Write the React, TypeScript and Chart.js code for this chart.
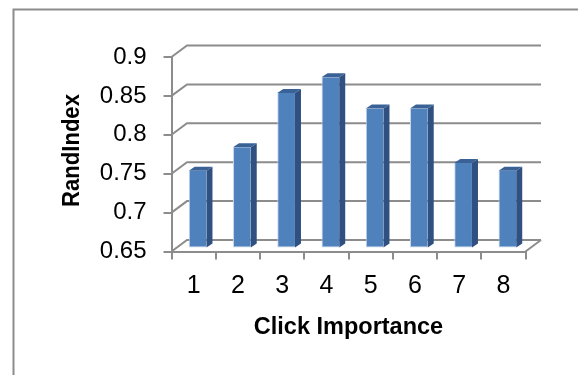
import { useEffect, useRef } from "react";
import { Chart, registerables } from "chart.js";

Chart.register(...registerables);

const categories = ["1", "2", "3", "4", "5", "6", "7", "8"];
const randIndex = [0.75, 0.78, 0.85, 0.87, 0.83, 0.83, 0.76, 0.75];
const yTicks = [0.65, 0.7, 0.75, 0.8, 0.85, 0.9];
const yAxisTitle = "RandIndex";
const xAxisTitle = "Click Importance";

const AXIS_GRAY = "#8c8c8c";
const BAR_FRONT = "#4f81bd";
const BAR_SIDE = "#2f5080";
const BAR_TOP = "#3a6296";
const BAR_EDGE = "#c4d5ea";

// Depth of the box behind the front plane, and of each column inside it.
const WALL_DX = 15.5;
const WALL_DY = -11.5;
const BAR_SHIFT_X = 4;
const BAR_SHIFT_Y = -3;
const BAR_DEPTH_X = 6;
const BAR_DEPTH_Y = -4;

// Paints the card outline and the back wall, floor and their connectors.
const boxPlugin = {
  id: "box3d",
  beforeDraw(chart: any) {
    const { ctx, scales, width, height } = chart;
    const yScale = scales.y;
    const { left, right, bottom } = chart.chartArea;
    ctx.save();
    ctx.strokeStyle = AXIS_GRAY;
    ctx.lineWidth = 2;
    ctx.beginPath();
    ctx.moveTo(13.5, height);
    ctx.lineTo(13.5, 9.5);
    ctx.lineTo(width, 9.5);
    ctx.stroke();
    yScale.ticks.forEach((tick: any) => {
      const y = yScale.getPixelForValue(tick.value);
      ctx.beginPath();
      ctx.moveTo(left, y);
      ctx.lineTo(left + WALL_DX, y + WALL_DY);
      ctx.lineTo(right + WALL_DX, y + WALL_DY);
      ctx.stroke();
    });
    ctx.beginPath();
    ctx.moveTo(right, bottom);
    ctx.lineTo(right + WALL_DX, bottom + WALL_DY);
    ctx.stroke();
    ctx.restore();
  },
};

// Shifts the columns into the box and adds their side and top faces.
const columnPlugin = {
  id: "column3d",
  beforeDatasetsDraw(chart: any) {
    const { ctx } = chart;
    ctx.save();
    ctx.translate(BAR_SHIFT_X, BAR_SHIFT_Y);
    chart.getDatasetMeta(0).data.forEach((bar: any) => {
      const half = bar.width / 2;
      const l = bar.x - half;
      const r = bar.x + half;
      ctx.fillStyle = BAR_SIDE;
      ctx.beginPath();
      ctx.moveTo(r, bar.y);
      ctx.lineTo(r + BAR_DEPTH_X, bar.y + BAR_DEPTH_Y);
      ctx.lineTo(r + BAR_DEPTH_X, bar.base + BAR_DEPTH_Y);
      ctx.lineTo(r, bar.base);
      ctx.closePath();
      ctx.fill();
      ctx.fillStyle = BAR_TOP;
      ctx.beginPath();
      ctx.moveTo(l, bar.y);
      ctx.lineTo(l + BAR_DEPTH_X, bar.y + BAR_DEPTH_Y);
      ctx.lineTo(r + BAR_DEPTH_X, bar.y + BAR_DEPTH_Y);
      ctx.lineTo(r, bar.y);
      ctx.closePath();
      ctx.fill();
    });
  },
  afterDatasetsDraw(chart: any) {
    chart.ctx.restore();
  },
};

// The vertical axis title sits slightly above the middle of the axis and runs tighter than its font.
const yTitlePlugin = {
  id: "yTitle",
  afterDraw(chart: any) {
    const { ctx } = chart;
    ctx.save();
    ctx.translate(72.5, 150.5);
    ctx.rotate(-Math.PI / 2);
    ctx.scale(0.92, 1);
    ctx.font = 'bold 24px "Liberation Sans"';
    ctx.fillStyle = "#000";
    ctx.textAlign = "center";
    ctx.textBaseline = "middle";
    ctx.fillText(yAxisTitle, 0, 0);
    ctx.restore();
  },
};

export default function App() {
  const canvasRef = useRef<HTMLCanvasElement | null>(null);

  useEffect(() => {
    document.body.style.margin = "0";
    const chart = new Chart(canvasRef.current as HTMLCanvasElement, {
      type: "bar",
      data: {
        labels: categories,
        datasets: [
          {
            data: randIndex,
            base: 0.65,
            backgroundColor: BAR_FRONT,
            borderColor: BAR_EDGE,
            borderWidth: { left: 1, bottom: 1, right: 0, top: 0 },
            borderSkipped: false,
            categoryPercentage: 1,
            barPercentage: 0.4,
          },
        ],
      },
      options: {
        animation: false,
        responsive: false,
        layout: { padding: { top: 57, left: 0, right: 52.5, bottom: 0 } },
        plugins: { legend: { display: false }, tooltip: { enabled: false } },
        scales: {
          x: {
            afterFit(axis: any) {
              axis.height = 123.5;
            },
            grid: {
              drawOnChartArea: false,
              color: AXIS_GRAY,
              lineWidth: 2,
              tickLength: 8,
            },
            border: { color: AXIS_GRAY, width: 2 },
            ticks: {
              color: "#000",
              padding: 12,
              maxRotation: 0,
              font: { family: "Liberation Sans", size: 25 },
            },
            title: {
              display: true,
              text: xAxisTitle,
              color: "#000",
              padding: { top: 0, bottom: 33 },
              font: { family: "Liberation Sans", size: 23.5, weight: "bold" },
            },
          },
          y: {
            min: 0.65,
            max: 0.9,
            afterFit(axis: any) {
              axis.width = 171.5;
            },
            afterBuildTicks(axis: any) {
              axis.ticks = yTicks.map((value) => ({ value }));
            },
            grid: {
              drawOnChartArea: false,
              color: AXIS_GRAY,
              lineWidth: 2,
              tickLength: 8,
            },
            border: { color: AXIS_GRAY, width: 2 },
            ticks: {
              color: "#000",
              padding: 17,
              font: { family: "Liberation Sans", size: 24 },
              callback: (value: any) => String(value),
            },
          },
        },
      },
      plugins: [boxPlugin, columnPlugin, yTitlePlugin],
    });
    return () => chart.destroy();
  }, []);

  return <canvas ref={canvasRef} width={578} height={375} style={{ display: "block" }} />;
}
